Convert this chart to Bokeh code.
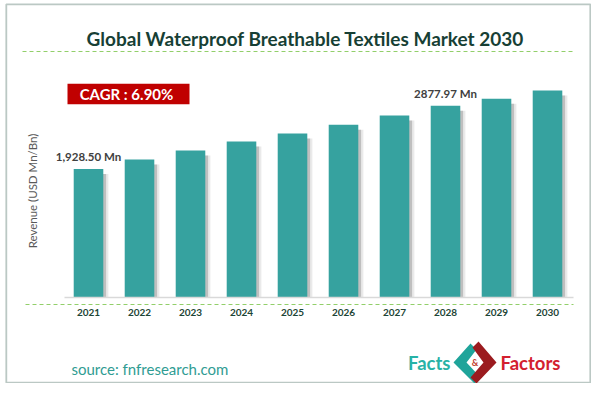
from bokeh.plotting import figure
from bokeh.models import (Range1d, Label, BoxAnnotation, Arrow,
                          PolyAnnotation, ColumnDataSource)
from bokeh.core.properties import value
from bokeh.embed import file_html
from bokeh.resources import INLINE

# ---- data ----
years = ["2021", "2022", "2023", "2024", "2025", "2026", "2027", "2028", "2029", "2030"]
revenue = [1928.50, 2070, 2205, 2340, 2460, 2590, 2730, 2877.97, 2980, 3105]
label_years = ["2021", "2028"]
label_values = [1928.50, 2877.97]
label_texts = ["1,928.50 Mn", "2877.97 Mn"]
title_text = "Global Waterproof Breathable Textiles Market 2030"
cagr_text = "CAGR : 6.90%"
y_label_text = "Revenue (USD Mn/Bn)"
source_text = "source: fnfresearch.com"

FONT = "Lato"
W, H = 591, 383
OX, OY = 0, 0          # picture position of the canvas
SX = 51.0              # pixels per category
SY = 15.0              # data units per pixel

def px(xp):            # picture x -> data x
    return (xp - 88) / SX

def py(yp):            # picture y -> data y
    return (297 - yp) * SY

p = figure(x_range=Range1d(px(OX), px(OX + W)), y_range=Range1d(py(OY + H), py(OY)),
           width=W, height=H, output_backend="svg", toolbar_location=None,
           x_axis_location=None, y_axis_location=None, min_border=0)
p.outline_line_color = None
p.xgrid.grid_line_color = None
p.ygrid.grid_line_color = None
p.background_fill_color = "white"
p.border_fill_color = "white"

pos = list(range(len(years)))
src = ColumnDataSource(dict(x=pos, year=years, revenue=revenue,
                            xs1=[v + 0.055 for v in pos], xs2=[v + 0.10 for v in pos],
                            shadow=[v - 75 for v in revenue]))

# bar shadows
p.vbar(x="xs2", top="shadow", width=0.58, source=src,
       fill_color="#8c8c8c", fill_alpha=0.18, line_color=None)
p.vbar(x="xs1", top="shadow", width=0.58, source=src,
       fill_color="#6f6f6f", fill_alpha=0.35, line_color=None)
# bars
p.vbar(x="x", top="revenue", width=0.58, source=src,
       fill_color="#36a29f", line_color=None)

# baseline
p.add_layout(Arrow(end=None, x_start=px(64), y_start=0, x_end=px(573), y_end=0,
                   line_color="#d9d9d9", line_width=1.5))

# year labels
p.text(x="x", y=py(312), text="year", source=src, text_align="center",
       text_baseline="middle", text_font=value(FONT), text_font_style="bold",
       text_font_size="10px", text_color="#1d4536")

# value labels
lsrc = ColumnDataSource(dict(x=[years.index(y) for y in label_years],
                             v=label_values, t=label_texts))
p.text(x="x", y="v", text="t", source=lsrc, y_offset=-12,
       text_align="center", text_baseline="middle", text_font=value(FONT),
       text_font_style="bold", text_font_size="11.5px", text_color="#404040")

# outer border
p.add_layout(BoxAnnotation(left=px(5.8), right=px(589.8), top=py(3.8), bottom=py(382.2),
                           fill_alpha=0, line_color="#1f4a3c", line_width=1.8))

# title
p.add_layout(Label(x=px(305), y=py(37.5), text=title_text, text_align="center",
                   text_baseline="alphabetic", text_font=FONT, text_font_style="bold",
                   text_font_size="19px", text_color="#173f35"))
# dashed separators
p.add_layout(Arrow(end=None, x_start=px(22), y_start=py(51), x_end=px(575), y_end=py(51),
                   line_color="#92cf6a", line_width=1.2, line_dash="4 3"))
p.add_layout(Arrow(end=None, x_start=px(25), y_start=py(304), x_end=px(573), y_end=py(304),
                   line_color="#92cf6a", line_width=1.2, line_dash="4 3"))

# CAGR box
p.add_layout(BoxAnnotation(left=px(67), right=px(189), top=py(83.3), bottom=py(103.7),
                           fill_color="#c00000", fill_alpha=1, line_color=None))
p.add_layout(Label(x=px(126), y=py(93.5), text=cagr_text, text_align="center",
                   text_baseline="middle", text_font=FONT, text_font_style="bold",
                   text_font_size="15px", text_color="white"))

# y axis label
p.add_layout(Label(x=px(32), y=py(190.5), text=y_label_text, angle=90, angle_units="deg",
                   text_align="center", text_baseline="middle", text_font=FONT,
                   text_font_size="11.5px", text_color="#595959"))

# source
p.add_layout(Label(x=px(71), y=py(368), text=source_text, text_align="left",
                   text_baseline="middle", text_font=FONT, text_font_size="15px",
                   text_color="#2f9c93"))

# logo
p.add_layout(Label(x=px(450), y=py(362), text="Facts", text_align="right",
                   text_baseline="middle", text_font=FONT, text_font_style="bold",
                   text_font_size="18.5px", text_color="#27b2a6"))
p.add_layout(Label(x=px(500), y=py(362), text="Factors", text_align="left",
                   text_baseline="middle", text_font=FONT, text_font_style="bold",
                   text_font_size="18.5px", text_color="#d3202f"))
teal = [(470, 343), (453, 362), (474, 383), (480, 377), (466, 362), (476, 349)]
red = [(478, 341), (496, 362), (476, 383), (470, 377), (483, 362), (472, 347)]
p.add_layout(PolyAnnotation(xs=[px(a) for a, b in teal], ys=[py(b) for a, b in teal],
                            fill_color="#1fa49a", fill_alpha=1, line_color=None))
p.add_layout(PolyAnnotation(xs=[px(a) for a, b in red], ys=[py(b) for a, b in red],
                            fill_color="#9b1b1f", fill_alpha=1, line_color=None))
p.add_layout(Label(x=px(474.5), y=py(362), text="&", text_align="center",
                   text_baseline="middle", text_font=FONT, text_font_style="bold",
                   text_font_size="9px", text_color="#c0392b"))

open("out.html", "w").write(file_html(p, INLINE))
